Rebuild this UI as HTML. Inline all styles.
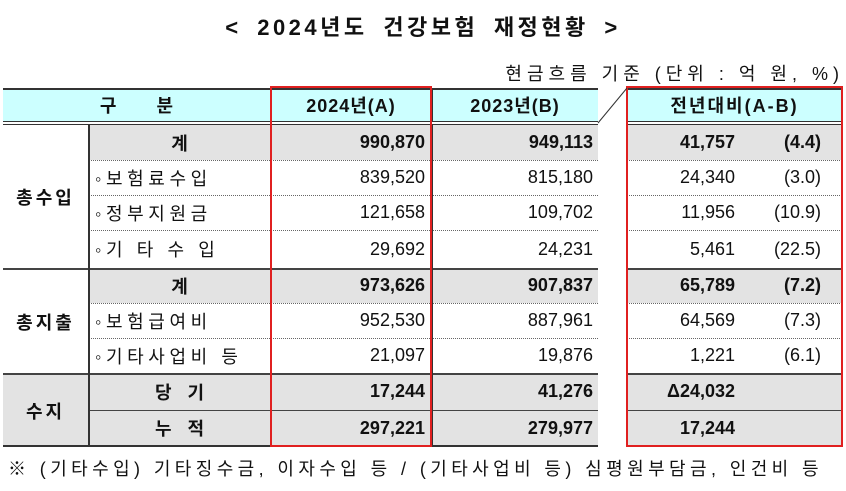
<!DOCTYPE html>
<html><head><meta charset="utf-8">
<style>
body{margin:0;width:846px;height:491px;background:#fff;overflow:hidden;position:relative;font-family:"Liberation Sans","Noto Sans CJK KR","NanumGothic",sans-serif;color:#111}
.a{position:absolute;box-sizing:border-box}
.c{display:flex;align-items:center;font-size:18px;white-space:pre}
.b{font-weight:bold}
</style></head><body>
<div class="a b" style="left:0;width:846px;top:10px;text-align:center;font-size:22px;letter-spacing:3.5px;word-spacing:6px">&lt; 2024년도 건강보험 재정현황 &gt;</div>
<div class="a" style="right:2px;top:60px;font-size:18px;white-space:pre;letter-spacing:5px">현금흐름 기준 (단위 : 억 원, %)</div>
<div id="t"></div>
<svg class="a" style="left:0;top:0" width="846" height="491"><line x1="598" y1="123" x2="627" y2="88" stroke="#333" stroke-width="1"/></svg>
<div class="a" style="left:8px;top:455px;font-size:18px;white-space:pre;letter-spacing:4.4px">※ (기타수입) 기타징수금, 이자수입 등 / (기타사업비 등) 심평원부담금, 인건비 등</div>
<script>
const groups=["총수입","총수입","총수입","총수입","총지출","총지출","총지출","수지","수지"];
const labels=["계","◦보험료수입","◦정부지원금","◦기 타 수 입","계","◦보험급여비","◦기타사업비 등","당  기","누  적"];
const v2024=["990,870","839,520","121,658","29,692","973,626","952,530","21,097","17,244","297,221"];
const v2023=["949,113","815,180","109,702","24,231","907,837","887,961","19,876","41,276","279,977"];
const diff=["41,757","24,340","11,956","5,461","65,789","64,569","1,221","Δ24,032","17,244"];
const pct=["(4.4)","(3.0)","(10.9)","(22.5)","(7.2)","(7.3)","(6.1)","",""];
const bold=[1,0,0,0,1,0,0,1,1];
const rowTops=[125,160,195,230,268,303,338,373,410,446];
const t=document.getElementById('t');
function box(x,y,w,h,css,txt,name){const d=document.createElement('div');d.className='a c';d.style.cssText=`left:${x}px;top:${y}px;width:${w}px;height:${h}px;`+css;if(txt!==undefined)d.textContent=txt;

t.appendChild(d);return d;}
box(3,88,595,34,'background:#ccffff;border-top:2px solid #333','','header-band-left');
box(627,88,215,34,'background:#ccffff;border-top:2px solid #333','','header-band-right');
box(3,88,267,34,'justify-content:center;font-weight:bold','구        분','header-category');
box(270,88,162,34,'justify-content:center;font-weight:bold;letter-spacing:1px','2024년(A)','header-2024');
box(432,88,166,34,'justify-content:center;font-weight:bold;letter-spacing:1px','2023년(B)','header-2023');
box(627,88,215,34,'justify-content:center;font-weight:bold;letter-spacing:2px','전년대비(A-B)','header-diff');
box(432,88,1,34,'background:#333','','header-divider');
box(3,121,595,1,'background:#333','','header-line1');box(3,124,595,1,'background:#333','','header-line2');
box(627,121,215,1,'background:#333','','header-line1r');box(627,124,215,1,'background:#333','','header-line2r');
for(let i=0;i<labels.length;i++){
 const y=rowTops[i],h=rowTops[i+1]-y,bg=bold[i]?'background:#e3e3e3;':'',fw=bold[i]?'font-weight:bold;':'';
 const newGroup=i===0||groups[i]!==groups[i-1];
 const line=newGroup?'border-top:2px solid #444;':(bold[i]?'border-top:1.5px solid #444;':'border-top:1px dotted #666;');
 box(88,y,510,h,bg+(i===0?'':line),'','row-bg-'+i);
 box(627,y,215,h,bg+(i===0?'':line),'','row-bg-right-'+i);
 const center=labels[i].charAt(0)!=='◦';
 box(91,y,179,h,fw+(center?'justify-content:center;letter-spacing:2px;':'padding-left:4px;letter-spacing:4.6px;'),labels[i],'row-label-'+i);
 box(270,y,155,h,fw+'justify-content:flex-end',v2024[i],'value-2024-'+i);
 box(432,y,161,h,fw+'justify-content:flex-end',v2023[i],'value-2023-'+i);
 box(627,y,108,h,fw+'justify-content:flex-end',diff[i],'value-diff-'+i);
 box(735,y,86,h,fw+'justify-content:flex-end',pct[i],'value-pct-'+i);
}
const gNames=[...new Set(groups)];
gNames.forEach((g,k)=>{const s=groups.indexOf(g),e=groups.lastIndexOf(g);
 const y=rowTops[s],h=rowTops[e+1]-y;
 box(3,y,85,h,(groups[s]==='수지'?'background:#e3e3e3;letter-spacing:3px;':'letter-spacing:3px;')+'justify-content:center;font-weight:bold;'+(s===0?'':'border-top:2px solid #444;'),g,'group-'+k);});
box(88,125,1.5,321,'background:#333','','group-divider');
box(432,125,1,321,'background:#333','','col-divider');
box(3,445,595,1.5,'background:#333','','bottom-line');
box(627,445,215,1.5,'background:#333','','bottom-line-right');
box(270,86,162,361,'border:2.5px solid #e02020','','highlight-2024');
box(626,86,217,361,'border:2.5px solid #e02020','','highlight-diff');
</script>
</body></html>
